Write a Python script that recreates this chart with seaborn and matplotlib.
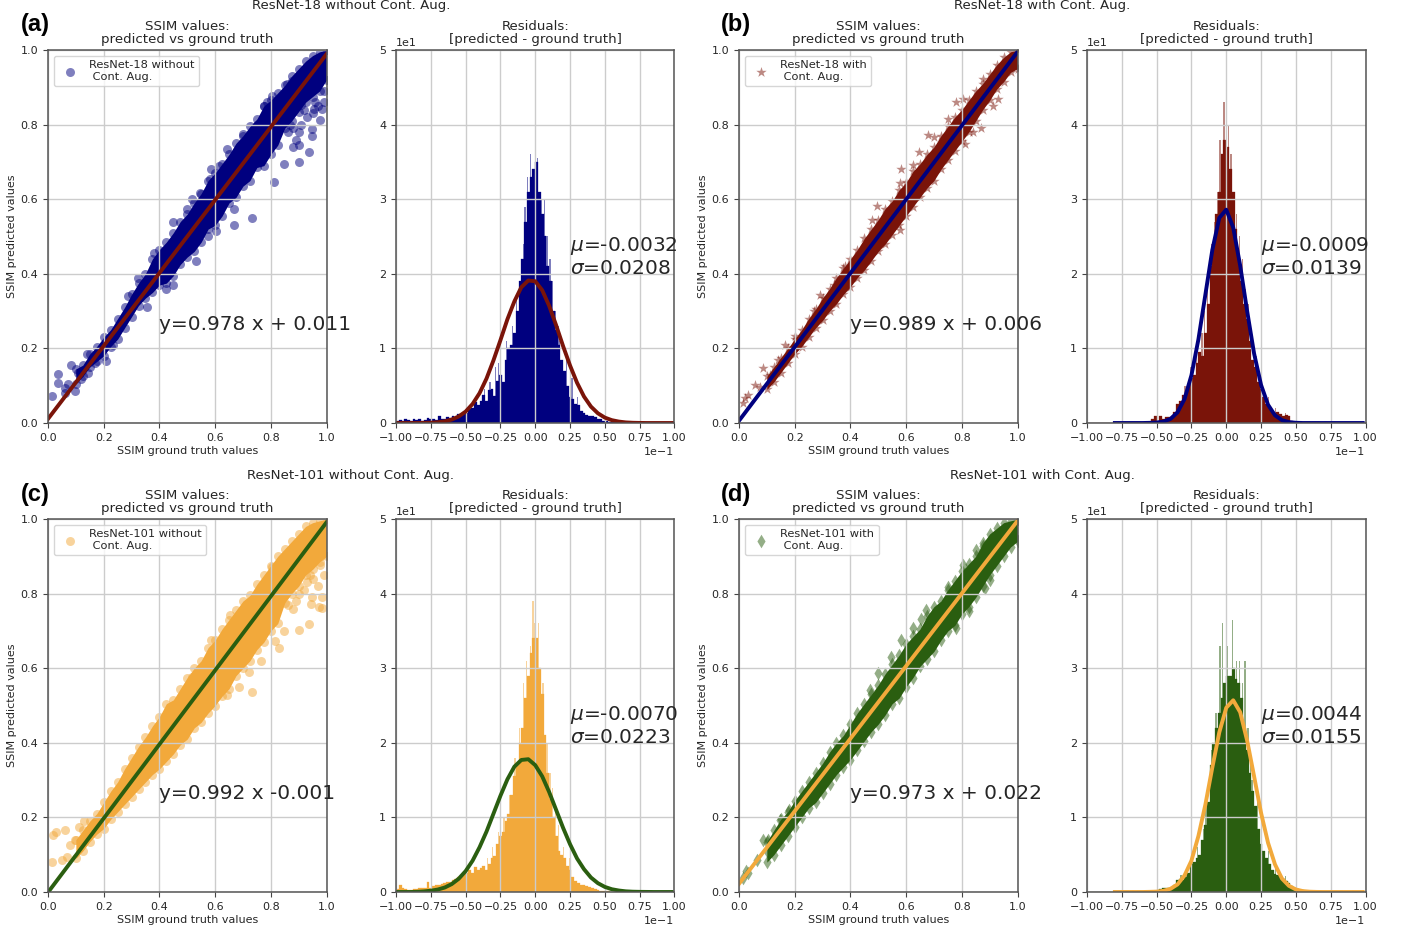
import matplotlib
matplotlib.use("Agg")
import matplotlib.pyplot as plt
import numpy as np
import seaborn as sns

NAVY = "#00007f"
RED = "#7a1409"
ORANGE = "#f2a93b"
GREEN = "#2a5e10"
TEXT = "#262626"

# band of the scatter cloud, read every 0.025 from x=0.1
band_x = [0.1, 0.125, 0.15, 0.175, 0.2, 0.225, 0.25, 0.275, 0.3, 0.325, 0.35, 0.375, 0.4,
          0.425, 0.45, 0.475, 0.5, 0.525, 0.55, 0.575, 0.6, 0.625, 0.65, 0.675, 0.7, 0.725,
          0.75, 0.775, 0.8, 0.825, 0.85, 0.875, 0.9, 0.925, 0.95, 0.975, 1.0]

a_hi = [.145, .155, .185, .205, .23, .25, .28, .31, .345, .375, .40, .44, .465, .485, .51, .54, .56, .59, .615,
        .65, .67, .695, .72, .75, .77, .795, .815, .85, .865, .885, .905, .93, .95, .97, .985, .995, 1.0]
a_lo = [.105, .125, .15, .165, .18, .205, .225, .255, .285, .315, .335, .35, .37, .375, .395, .425, .445, .46, .485,
        .52, .53, .555, .59, .605, .635, .65, .685, .69, .72, .745, .79, .81, .835, .86, .875, .89, .92]
b_hi = [.125, .15, .175, .2, .225, .25, .28, .305, .335, .36, .39, .415, .44, .465, .495, .52, .545, .575, .595,
        .625, .645, .675, .695, .72, .74, .77, .795, .82, .84, .865, .89, .91, .935, .96, .98, .995, 1.0]
b_lo = [.09, .11, .135, .16, .185, .205, .23, .255, .275, .30, .32, .345, .365, .39, .41, .435, .46, .48, .505,
        .53, .555, .58, .605, .63, .65, .68, .705, .73, .755, .78, .81, .84, .865, .895, .915, .94, .95]
c_hi = [.14, .165, .19, .21, .24, .27, .295, .33, .36, .39, .415, .445, .47, .505, .515, .545, .575, .60, .62,
        .655, .675, .705, .73, .755, .78, .795, .825, .85, .875, .90, .92, .94, .96, .98, .99, .995, 1.0]
c_lo = [.09, .11, .135, .155, .17, .195, .215, .235, .255, .275, .295, .315, .33, .35, .37, .395, .41, .44, .455,
        .48, .50, .525, .545, .58, .60, .62, .65, .67, .70, .72, .775, .80, .82, .85, .865, .885, .90]
d_hi = [.135, .165, .195, .215, .245, .27, .295, .32, .345, .375, .40, .42, .45, .48, .505, .53, .555, .585, .61,
        .635, .665, .685, .705, .74, .765, .78, .81, .835, .86, .88, .90, .935, .96, .975, .99, .995, 1.0]
d_lo = [.08, .10, .125, .15, .175, .20, .225, .24, .265, .29, .315, .335, .355, .38, .405, .43, .45, .475, .505,
        .52, .55, .575, .605, .625, .645, .675, .70, .715, .745, .765, .79, .82, .85, .875, .90, .925, .94]

# points lying outside the band
a_out_x = [.937, .90, .948, .948, .733, .667, .81, .846, .90, .88, .805, .775, .787, .859, .877, .75, .70, .643,
           .587, .613, .58, .545, .517, .50, .449, .667, .955, .985, .976, .91, .90, .013, .037, .037, .082, .073,
           .06, .097, .06, .107, .118, .144, .139, .17, .207, .115, .235, .286, .323, .355, .379, .423, .45, .533,
           .575, .605, .86, .88, .91, .93, .95, .97, .99, .99, .96, .92, .89, .87]
a_out_y = [.727, .70, .77, .788, .55, .53, .645, .695, .745, .741, .876, .85, .86, .91, .918, .80, .775, .735,
           .682, .689, .654, .616, .60, .575, .54, .575, .843, .843, .812, .852, .781, .072, .107, .131, .156, .105,
           .095, .087, .08, .134, .117, .134, .185, .16, .165, .135, .21, .34, .39, .31, .455, .36, .37, .435,
           .50, .515, .78, .79, .80, .82, .83, .85, .86, .89, .86, .84, .76, .80]
b_out_x = [.677, .81, .868, .84, .93, .912, .876, .78, .805, .75, .583, .645, .625, .577, .494, .476, .70, .577,
           .014, .022, .032, .057, .075, .086, .111, .14, .165, .2, .29, .27, .34, .38]
b_out_y = [.772, .748, .79, .78, .868, .85, .922, .86, .868, .816, .68, .727, .692, .643, .582, .544, .766, .517,
           .054, .067, .075, .102, .097, .147, .129, .169, .209, .233, .343, .30, .37, .42]
c_out_x = [.937, .90, .846, .816, .829, .765, .72, .685, .643, .733, .985, .973, .943, .985, .948, .93, .978, .585,
           .517, .655, .805, .685, .014, .05, .018, .08, .097, .07, .03, .06, .11, .13,
           .86, .89, .92, .95, .97, .99, .98, .94, .90, .88]
c_out_y = [.718, .703, .70, .672, .653, .618, .59, .55, .528, .537, .762, .765, .772, .792, .792, .832, .877, .675,
           .577, .743, .872, .742, .08, .086, .152, .126, .14, .094, .16, .165, .175, .19,
           .77, .78, .81, .84, .82, .85, .90, .85, .80, .76]
d_out_x = [.827, .78, .885, .902, .805, .75, .85, .875, .58, .546, .50, .47, .655, .625, .67, .014, .025, .065,
           .086, .032, .104, .147, .1, .18]
d_out_y = [.753, .707, .814, .836, .877, .818, .917, .928, .676, .629, .586, .542, .733, .707, .755, .038, .056, .086,
           .139, .05, .139, .193, .11, .22]

# fitted lines
fit_x = [0.0, 1.0]
a_fit = [0.011, 0.989]
b_fit = [0.006, 0.995]
c_fit = [-0.001, 0.991]
d_fit = [0.022, 0.995]

# histogram heights, 100 equal bins over the axis, left to right
a_hist = [.3, .4, .3, .5, .4, .3, .6, .4, .5, .3,
          .4, .7, .5, .6, .4, .9, .6, .5, .8, .7,
          .9, .8, 1.2, 1.0, 1.5, 1.3, 1.9, 2.0, 2.8, 2.4,
          3.0, 3.8, 2.9, 4.4, 4.6, 3.6, 5.6, 6.5, 5.5, 8.5,
          10, 10.5, 12, 15, 19, 22, 27, 31, 33, 34,
          35, 31, 28, 25, 21, 19, 15, 12.5, 10.5, 8.5,
          7, 5, 3.5, 3.2, 2.6, 2.4, 1.6, 1.3, 1.1, .9,
          .9, .8, .6, .5, .3, .3, .2, .2, .1, .1,
          .1, .05, .1, .05, .05, .1, .05, 0, .05, 0,
          0, .05, 0, 0, .05, 0, 0, 0, 0, 0]
b_hist = [0, 0, 0, 0, 0, 0, 0, 0, 0, 0,
          .1, .1, .05, .1, .05, .1, .1, .1, .2, .1,
          .15, .2, .2, .5, .9, .3, 1.0, .5, .8, .8,
          1.0, 1.5, 2.5, 3.0, 3.8, 3.5, 5, 6, 6.5, 8,
          9.5, 9, 12, 16, 21, 24, 28, 31, 36, 38,
          37, 34, 31, 26, 22, 19, 16, 14, 11, 8.5,
          7.5, 5.5, 4.5, 3.5, 2.5, 2, 1.5, 1.3, 1.5, 1.2,
          1.0, 1.1, .9, .3, .2, .1, .1, .15, .2, .2,
          .2, .1, .1, .1, .05, .1, .05, .05, .05, .05,
          .05, .05, 0, .05, .05, .05, .05, .05, .05, 0]
c_hist = [.4, 1.0, .5, .4, .3, .3, .4, .4, .5, .5,
          .5, 1.3, .6, .8, .9, 1.0, 1.1, 1.2, 1.3, 1.4,
          1.6, 1.7, 2, 2.3, 2.5, 2.6, 3, 2.6, 3.4, 3,
          3.2, 3.5, 3, 3.8, 4.5, 4.8, 6.5, 7.5, 8, 9.5,
          10.5, 13, 15.5, 17, 20, 22, 26, 29, 32, 34,
          34, 30, 26.5, 21, 16, 12.5, 10, 7.5, 5.5, 5,
          4.5, 3.5, 3, 2, 1.5, 1.2, 1, .9, .8, .7,
          .6, .4, .3, .2, .15, .1, .1, .05, .05, .05,
          .05, .05, .05, .05, .05, .1, .05, .05, 0, 0,
          0, 0, 0, 0, 0, 0, 0, 0, 0, 0]
d_hist = [0, 0, 0, 0, 0, 0, 0, 0, 0, 0,
          0, .1, .1, .1, .1, .05, .1, .05, .1, .1,
          .1, .1, .15, .2, .2, .3, .4, .5, .5, .6,
          .7, .9, 1.6, 1.7, 1.6, 2, 2.5, 3.8, 4, 4.5,
          5, 7, 9, 12, 17, 20, 22, 24, 26, 28,
          29, 29, 30, 28.5, 28, 26, 22, 19, 16, 13.5,
          11.5, 8.5, 6.5, 5.5, 4.5, 3.8, 3, 2.4, 2.3, 2,
          1.7, 1.5, 1.2, .8, .6, .4, .3, .3, .2, .2,
          .2, .1, .2, .1, .1, .1, .15, .1, .05, .05,
          .05, .1, .05, 0, .05, .1, .05, .05, .05, 0]

# tallest thin bars above the blocks
a_spike_x = [-.055, -.035, -.015, .015, .045, -.37, -.33, -.29, -.27, -.21, -.17, -.13, -.09, -.075,
             .06, .08, .1, .12, .14, .16, .18, .22, .26, .3]
a_spike_y = [33, 36, 34, 35.5, 30, 4.5, 5.5, 7.5, 8, 11, 13, 17, 24, 29,
             30, 25, 22, 19, 15, 13, 11, 9, 6, 3.5]
b_spike_x = [-.02, -.045, .015, .035, -.065, .07, -.11, -.3, -.26, -.22, -.18, -.155, -.13, -.09,
             .09, .11, .13, .15, .17, .21, .25, .3, .36, .43]
b_spike_y = [43, 38, 40, 36, 31, 28, 24, 5, 7.5, 9, 12, 15, 19, 27,
             25, 22, 18, 16, 13, 9, 6, 3.5, 2, 1.4]
c_spike_x = [-.015, -.005, .03, -.07, -.04, .055, -.09, -.35, -.31, -.27, -.23, -.19, -.15, -.12,
             .08, .1, .12, .14, .16, .2, .24]
c_spike_y = [39, 36, 36, 31, 33, 28, 28, 4.5, 6, 8, 10, 13, 18, 22,
             20, 16, 14, 11, 9, 6, 4.5]
d_spike_x = [-.03, -.045, .045, .01, .13, .09, .07, -.33, -.29, -.25, -.21, -.17, -.14, -.11, -.08,
             .11, .15, .17, .19, .22, .25, .3, .36, .43]
d_spike_y = [36, 33, 36.5, 33, 31, 31, 31, 2.3, 3, 4.5, 6, 8.5, 12, 19, 24,
             28, 22, 18, 15, 12, 8.5, 5.5, 3.2, 2.2]

# normal curves read at these x values
curve_x = [-1.0, -.95, -.9, -.85, -.8, -.75, -.7, -.65, -.6, -.55, -.5, -.45, -.4, -.35, -.3, -.25, -.2, -.15,
           -.1, -.05, 0, .05, .1, .15, .2, .25, .3, .35, .4, .45, .5, .55, .6, .65, .7, .75, .8, .85, .9, .95,
           .98, 1.0]
nan = float("nan")
a_curve = [0, 0, 0, 0, .02, .04, .1, .22, .46, .87, 1.53, 2.55, 4.0, 5.96, 8.4, 11.1, 13.9, 16.3,
           18.2, 19.1, 19.0, 17.8, 15.7, 13.1, 10.3, 7.7, 5.4, 3.55, 2.2, 1.3, .72, .38, .19, .08, .03, .01, 0, 0, 0, 0,
           0, 0]
b_curve = [nan, nan, nan, nan, 0, 0, 0, 0, 0, .02, .06, .19, .55, 1.43, 3.2, 6.4, 11.2, 17.2,
           23.2, 27.5, 28.6, 26.2, 21.1, 15.0, 9.3, 5.1, 2.45, 1.03, .38, .12, .03, 0, 0, 0, 0, 0, 0, 0, 0, 0,
           0, nan]
c_curve = [0, 0, 0, .02, .08, .17, .33, .6, 1.06, 1.77, 2.8, 4.2, 6.0, 8.1, 10.5, 12.9, 15.1, 16.8,
           17.7, 17.8, 17.0, 15.5, 13.4, 11.0, 8.6, 6.4, 4.5, 3.06, 1.94, 1.18, .68, .37, .2, .09, .04, .02, .01, 0, 0, 0,
           0, nan]
d_curve = [nan, nan, nan, nan, 0, 0, 0, 0, 0, .02, .05, .16, .43, 1.02, 2.2, 4.2, 7.5, 11.7,
           16.7, 21.4, 24.7, 25.7, 24.1, 20.3, 15.5, 10.6, 6.6, 3.7, 1.8, .83, .34, .12, .04, .01, 0, 0, 0, 0, 0, 0,
           0, nan]

letters = ["(a)", "(b)", "(c)", "(d)"]
suptitles = ["ResNet-18 without Cont. Aug.", "ResNet-18 with Cont. Aug.",
             "ResNet-101 without Cont. Aug.", "ResNet-101 with Cont. Aug."]
legend_labels = ["ResNet-18 without\n Cont. Aug.", "ResNet-18 with\n Cont. Aug.",
                 "ResNet-101 without\n Cont. Aug.", "ResNet-101 with\n Cont. Aug."]
fit_texts = ["y=0.978 x + 0.011", "y=0.989 x + 0.006", "y=0.992 x -0.001", "y=0.973 x + 0.022"]
stat_texts = ["$\\mu$=-0.0032\n$\\sigma$=0.0208", "$\\mu$=-0.0009\n$\\sigma$=0.0139",
              "$\\mu$=-0.0070\n$\\sigma$=0.0223", "$\\mu$=0.0044\n$\\sigma$=0.0155"]

W, H = 1403, 930
fig = plt.figure(figsize=(W / 100, H / 100), dpi=100)


def add_axes(x0, y0, x1, y1):
    return fig.add_axes([x0 / W, 1 - y1 / H, (x1 - x0) / W, (y1 - y0) / H])


def style(ax):
    ax.grid(True, color="#cccccc", linewidth=1.0)
    ax.tick_params(labelsize=8, colors=TEXT, color="#444444", length=3.5)
    for s in ax.spines.values():
        s.set_color("#555555")
        s.set_linewidth(1.1)


def draw_panel(i, left, top, letter_x, color, line_color, marker, size, band_lo, band_hi, out_x, out_y, fit_y,
               hist, spike_x, spike_y, curve):
    bottom = top + 373
    ax1 = add_axes(left, top, left + 278.5, bottom)
    ax2 = add_axes(left + 348, top, left + 626.5, bottom)

    # scatter: solid core of the cloud, then its edge and the stray points
    ax1.fill_between(band_x, band_lo, band_hi, color=color, linewidth=0, zorder=1)
    xs = band_x + band_x + out_x
    ys = band_lo + band_hi + out_y
    sns.scatterplot(x=xs, y=ys, ax=ax1, color=color, marker=marker, s=size, alpha=0.5, linewidth=0,
                    label=legend_labels[i], zorder=1)
    sns.lineplot(x=fit_x, y=fit_y, ax=ax1, color=line_color, linewidth=2.8, errorbar=None, legend=False)
    ax1.set_xlim(0, 1)
    ax1.set_ylim(0, 1)
    ax1.set_xticks([0, .2, .4, .6, .8, 1.0])
    ax1.set_yticks([0, .2, .4, .6, .8, 1.0])
    ax1.set_title("SSIM values:\npredicted vs ground truth", fontsize=9.6, color=TEXT, pad=5, linespacing=1.05)
    ax1.set_xlabel("SSIM ground truth values", fontsize=8, color=TEXT, labelpad=2)
    ax1.set_ylabel("SSIM predicted values", fontsize=8, color=TEXT, labelpad=2.5)
    ax1.legend(loc="upper left", fontsize=8.2, labelcolor=TEXT, borderaxespad=0.5, handletextpad=0.7,
               labelspacing=0.2)
    ax1.text(0.4, 0.25, fit_texts[i], fontsize=14.5, color=TEXT, clip_on=False)
    style(ax1)

    # residuals histogram
    edges = np.linspace(-0.1, 0.1, 101)
    centers = (edges[:-1] + edges[1:]) / 2
    sns.histplot(x=centers, weights=hist, bins=edges.tolist(), ax=ax2, color=color, edgecolor=color, linewidth=0.2,
                 alpha=1)
    fine = np.linspace(-0.1, 0.1, 201)
    sns.histplot(x=np.array(spike_x) / 10, weights=spike_y, bins=fine.tolist(), ax=ax2, color=color, linewidth=0,
                 alpha=0.5)
    sns.lineplot(x=np.array(curve_x) / 10, y=curve, ax=ax2, color=line_color, linewidth=2.8, errorbar=None,
                 legend=False)
    ax2.set_xlim(-0.1, 0.1)
    ax2.set_ylim(0, 50)
    ax2.set_xticks(np.linspace(-0.1, 0.1, 9))
    ax2.set_ylabel("")
    ax2.ticklabel_format(style="sci", axis="both", scilimits=(0, 0))
    ax2.xaxis.get_offset_text().set_fontsize(8)
    ax2.yaxis.get_offset_text().set_fontsize(8)
    ax2.xaxis.get_offset_text().set_color(TEXT)
    ax2.yaxis.get_offset_text().set_color(TEXT)
    ax2.set_title("Residuals:\n[predicted - ground truth]", fontsize=9.6, color=TEXT, pad=5, linespacing=1.05)
    ax2.text(0.025, 20, stat_texts[i], fontsize=14.5, color=TEXT, clip_on=False, linespacing=1.15)
    style(ax2)

    fig.text(letter_x / W, 1 - (top - 25) / H, letters[i], fontsize=17, fontweight="bold",
             family="Liberation Sans", va="center", ha="left", color="black")
    fig.text((left + 303) / W, 1 - (top - 44) / H, suptitles[i], fontsize=9.6, ha="center", va="center",
             color=TEXT)


draw_panel(0, 48, 50, 21, NAVY, RED, "o", 42, a_lo, a_hi, a_out_x, a_out_y, a_fit, a_hist, a_spike_x, a_spike_y, a_curve)
draw_panel(1, 739, 50, 721, RED, NAVY, "*", 62, b_lo, b_hi, b_out_x, b_out_y, b_fit, b_hist, b_spike_x, b_spike_y, b_curve)
draw_panel(2, 48, 519, 21, ORANGE, GREEN, "o", 42, c_lo, c_hi, c_out_x, c_out_y, c_fit, c_hist, c_spike_x, c_spike_y, c_curve)
draw_panel(3, 739, 519, 721, GREEN, ORANGE, "d", 48, d_lo, d_hi, d_out_x, d_out_y, d_fit, d_hist, d_spike_x, d_spike_y, d_curve)

fig.savefig("out.png", dpi=100)
